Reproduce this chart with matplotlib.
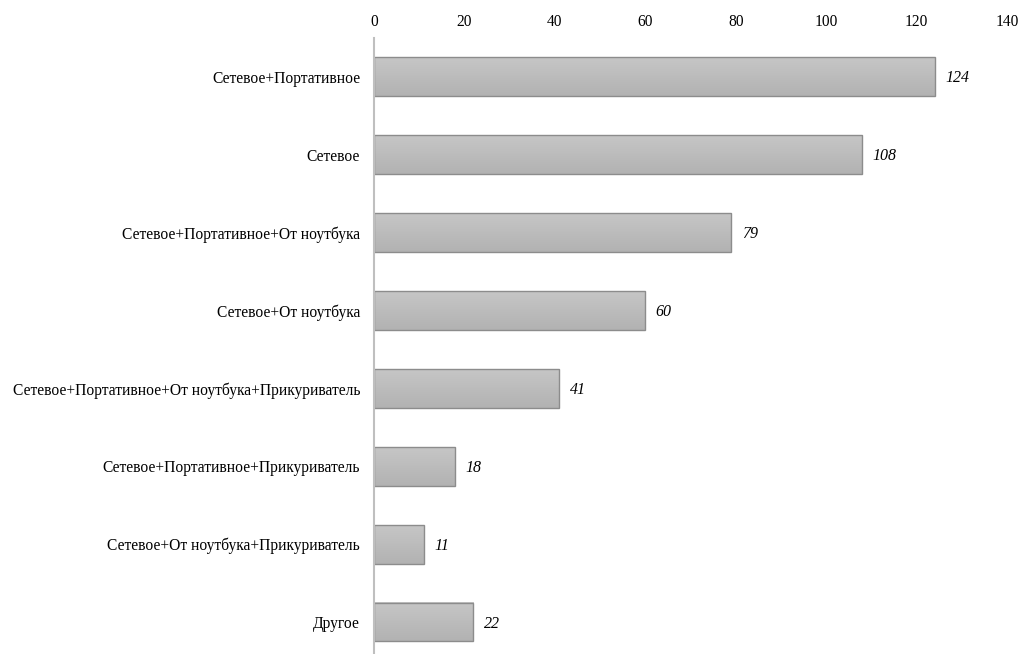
import numpy as np
import matplotlib.pyplot as plt
from matplotlib.colors import LinearSegmentedColormap

categories = [
    "Сетевое+Портативное",
    "Сетевое",
    "Сетевое+Портативное+От ноутбука",
    "Сетевое+От ноутбука",
    "Сетевое+Портативное+От ноутбука+Прикуриватель",
    "Сетевое+Портативное+Прикуриватель",
    "Сетевое+От ноутбука+Прикуриватель",
    "Другое",
]
values = [124, 108, 79, 60, 41, 18, 11, 22]
xticks = [0, 20, 40, 60, 80, 100, 120, 140]

plt.rcParams['font.family'] = ['Liberation Serif', 'DejaVu Serif']

fig = plt.figure(figsize=(10.19, 6.54), dpi=100)
ax = fig.add_axes([374 / 1019, 0, 633 / 1019, 1 - 38 / 654])

y = np.arange(len(categories))
h = 0.5
bars = ax.barh(y, values, height=h, facecolor='none', edgecolor='#8c8c8c',
               linewidth=1.0, zorder=3)

# verloop in de balken: licht boven, donkerder onder
cmap = LinearSegmentedColormap.from_list('g', ['#c6c6c6', '#b2b2b2'])
grad = np.linspace(0, 1, 50).reshape(-1, 1)
for yi, v in zip(y, values):
    ax.imshow(grad, cmap=cmap, aspect='auto', extent=[0, v, yi + h / 2, yi - h / 2],
              zorder=2, interpolation='bilinear')
    ax.text(v + 2.3, yi + 0.02, str(v), va='center', ha='left', fontsize=11.5, style='italic')

ax.set_xlim(0, 140)
ax.set_ylim((654 - 77) / 77.86, -0.5)
ax.set_xticks(xticks)
ax.set_yticks(y)
ax.set_yticklabels(categories, fontsize=11.2)
ax.xaxis.tick_top()
ax.tick_params(axis='x', length=0, labelsize=11.2, pad=6)
ax.tick_params(axis='y', length=0, pad=10)

for s in ['top', 'right', 'bottom']:
    ax.spines[s].set_visible(False)
ax.spines['left'].set_color('#bfbfbf')
ax.spines['left'].set_linewidth(1.5)
ax.spines['left'].set_zorder(4)

plt.savefig('out.png', dpi=100)
